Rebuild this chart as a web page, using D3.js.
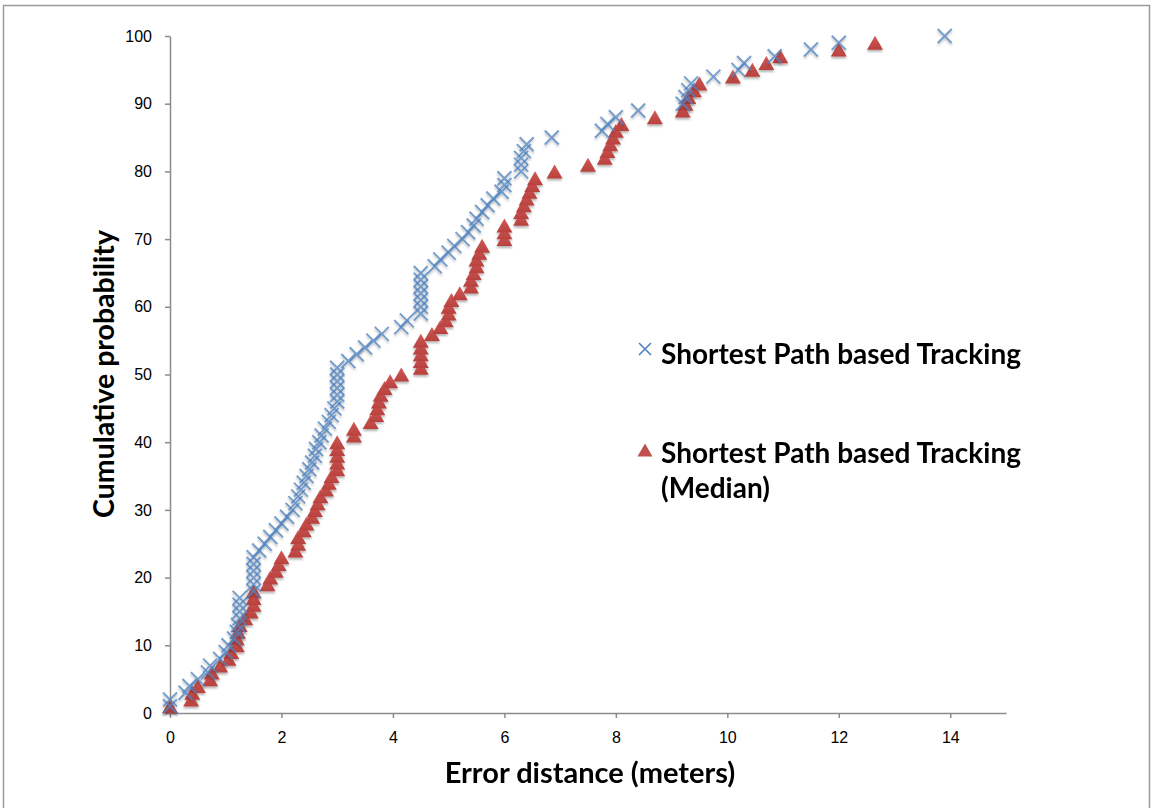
<!DOCTYPE html>
<html>
<head>
<meta charset="utf-8">
<script src="https://cdn.jsdelivr.net/npm/d3@7/dist/d3.min.js"></script>
<style>
  html, body { margin: 0; padding: 0; background: #fff; }
  svg { display: block; }
  .tick text { font-family: "Liberation Sans", Arial, sans-serif; font-size: 16px; fill: #000; }
  .title { font-family: Lato, "Open Sans", sans-serif; font-weight: 700; fill: #000; }
</style>
</head>
<body>
<svg id="chart" width="1152" height="808"></svg>
<script>
// Cumulative probability (%) against error distance (m) for both trackers
const spX = [0, 0, 0.28, 0.35, 0.5, 0.68, 0.72, 0.9, 1.0, 1.05,
  1.15, 1.2, 1.22, 1.25, 1.25, 1.25, 1.25, 1.5, 1.5, 1.5,
  1.5, 1.5, 1.5, 1.6, 1.7, 1.8, 1.9, 2.0, 2.1, 2.2,
  2.25, 2.3, 2.35, 2.4, 2.45, 2.5, 2.55, 2.6, 2.62, 2.68,
  2.72, 2.78, 2.85, 2.9, 2.95, 3.0, 3.0, 3.0, 3.0, 3.0,
  3.0, 3.2, 3.35, 3.5, 3.65, 3.8, 4.15, 4.25, 4.5, 4.5,
  4.5, 4.5, 4.5, 4.5, 4.5, 4.75, 4.85, 5.0, 5.1, 5.25,
  5.35, 5.45, 5.5, 5.6, 5.7, 5.8, 5.95, 6.0, 6.0, 6.3,
  6.3, 6.3, 6.35, 6.4, 6.85, 7.75, 7.85, 8.0, 8.4, 9.2,
  9.25, 9.3, 9.35, 9.75, 10.2, 10.3, 10.85, 11.5, 12.0, 13.9];
const spY = d3.range(1, 101);

const medX = [0, 0.38, 0.4, 0.5, 0.72, 0.75, 0.9, 1.05, 1.1, 1.2,
  1.2, 1.22, 1.25, 1.35, 1.45, 1.5, 1.5, 1.5, 1.75, 1.8,
  1.9, 1.95, 2.0, 2.25, 2.3, 2.3, 2.4, 2.45, 2.55, 2.6,
  2.65, 2.7, 2.8, 2.85, 2.9, 3.0, 3.0, 3.0, 3.0, 3.0,
  3.3, 3.3, 3.6, 3.7, 3.72, 3.75, 3.78, 3.85, 3.95, 4.15,
  4.5, 4.5, 4.5, 4.5, 4.5, 4.7, 4.85, 4.95, 5.0, 5.0,
  5.05, 5.2, 5.4, 5.4, 5.45, 5.5, 5.5, 5.55, 5.6, 6.0,
  6.0, 6.0, 6.3, 6.3, 6.35, 6.4, 6.45, 6.5, 6.55, 6.9,
  7.5, 7.8, 7.85, 7.9, 7.95, 8.0, 8.1, 8.7, 9.2, 9.25,
  9.3, 9.4, 9.5, 10.1, 10.45, 10.7, 10.95, 12.0, 12.65];
const medY = d3.range(1, 100);

const xTicks = [0, 2, 4, 6, 8, 10, 12, 14];
const yTicks = [0, 10, 20, 30, 40, 50, 60, 70, 80, 90, 100];
const seriesNames = ["Shortest Path based Tracking", "Shortest Path based Tracking", "(Median)"];
const xTitle = "Error distance (meters)";
const yTitle = "Cumulative probability";

const svg = d3.select("#chart");
const blue = "#4F81BD", red = "#C0504D", axisGray = "#8c8c8c";

const defs = svg.append("defs");
const shadow = defs.append("filter").attr("id", "mk").attr("x", "-50%").attr("y", "-50%").attr("width", "200%").attr("height", "200%");
shadow.append("feGaussianBlur").attr("in", "SourceGraphic").attr("stdDeviation", 0.6).attr("result", "soft");
shadow.append("feDropShadow").attr("in", "soft").attr("dx", 0).attr("dy", 2).attr("stdDeviation", 1.3).attr("flood-color", "#000").attr("flood-opacity", 0.3);

const grad = defs.append("linearGradient").attr("id", "tri").attr("x1", 0).attr("y1", 0).attr("x2", 0).attr("y2", 1);
grad.append("stop").attr("offset", "0%").attr("stop-color", "#d05a56");
grad.append("stop").attr("offset", "100%").attr("stop-color", "#b8413e");

// frame around the chart area
svg.append("rect").attr("x", 3.5).attr("y", 5.5).attr("width", 1146).attr("height", 810)
  .attr("fill", "none").attr("stroke", "#9a9a9a").attr("stroke-width", 1.5);

const x = d3.scaleLinear().domain([0, 15]).range([170, 1006]);
const y = d3.scaleLinear().domain([0, 100]).range([713, 36]);

const xAxis = svg.append("g").attr("transform", `translate(0,${y(0)})`)
  .call(d3.axisBottom(x).tickValues(xTicks).tickSize(5).tickPadding(14).tickSizeOuter(0));
const yAxis = svg.append("g").attr("transform", `translate(${x(0)},0)`)
  .call(d3.axisLeft(y).tickValues(yTicks).tickSize(5).tickPadding(13).tickSizeOuter(0));
[xAxis, yAxis].forEach(g => {
  g.select(".domain").attr("stroke", axisGray).attr("stroke-width", 1.5);
  g.selectAll(".tick line").attr("stroke", axisGray).attr("stroke-width", 1.5);
});

const cross = s => `M${-s},${-s}L${s},${s}M${-s},${s}L${s},${-s}`;
const triangle = (w, h) => `M0,${-h / 2}L${w / 2},${h / 2}L${-w / 2},${h / 2}Z`;

// median series underneath, plain series on top
svg.append("g").attr("filter", "url(#mk)").selectAll("path")
  .data(d3.zip(medX, medY)).join("path")
  .attr("transform", d => `translate(${x(d[0])},${y(d[1])})`)
  .attr("d", triangle(16, 14))
  .attr("fill", "url(#tri)");

svg.append("g").attr("filter", "url(#mk)").selectAll("path")
  .data(d3.zip(spX, spY)).join("path")
  .attr("transform", d => `translate(${x(d[0])},${y(d[1])})`)
  .attr("d", cross(7))
  .attr("stroke", blue).attr("stroke-width", 2).attr("stroke-opacity", 0.75)
  .attr("fill", "none");

// legend
const lg = svg.append("g");
lg.append("path").attr("transform", "translate(645,349)").attr("d", cross(6))
  .attr("stroke", blue).attr("stroke-width", 1.6).attr("fill", "none");
lg.append("path").attr("transform", "translate(645,450)").attr("d", triangle(15, 13))
  .attr("fill", red);
lg.append("text").attr("class", "title").attr("x", 661).attr("y", 364).style("font-size", "28px").text(seriesNames[0]);
lg.append("text").attr("class", "title").attr("x", 661).attr("y", 463).style("font-size", "28px").text(seriesNames[1]);
lg.append("text").attr("class", "title").attr("x", 661).attr("y", 498).style("font-size", "28px").text(seriesNames[2]);

// axis titles
svg.append("text").attr("class", "title").attr("x", 590).attr("y", 783)
  .attr("text-anchor", "middle").style("font-size", "29px").text(xTitle);
svg.append("text").attr("class", "title")
  .attr("transform", "translate(114,374) rotate(-90)")
  .attr("text-anchor", "middle").style("font-size", "28.5px").text(yTitle);
</script>
</body>
</html>
